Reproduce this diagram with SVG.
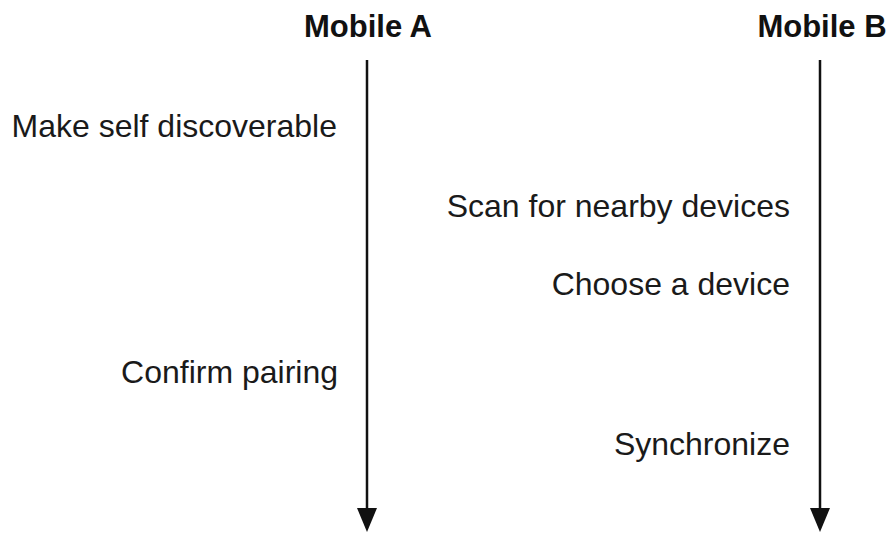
<svg xmlns="http://www.w3.org/2000/svg" width="894" height="535" viewBox="0 0 894 535">
<defs>
<style>
.hdr{font-family:"Liberation Sans",Arial,sans-serif;font-weight:bold;font-size:31px;fill:#111;text-anchor:middle}
.lbl{font-family:"Liberation Sans",Arial,sans-serif;font-size:32px;fill:#1a1a1a;text-anchor:end}
.life{stroke:#111;stroke-width:2.5;fill:none}
.head{fill:#111}
</style>
</defs>
<rect width="894" height="535" fill="#fff"/>
<g id="mobileA">
<text class="hdr" x="368" y="37">Mobile A</text>
</g>
<g id="mobileB">
<text class="hdr" x="822" y="37">Mobile B</text>
</g>
<g id="connectors">
<line class="life" x1="367" y1="60" x2="367" y2="510"/>
<polygon class="head" points="357,508 377,508 367,532"/>
<line class="life" x1="820" y1="60" x2="820" y2="510"/>
<polygon class="head" points="810,508 830,508 820,532"/>
</g>
<g id="step1"><text class="lbl" x="337" y="137">Make self discoverable</text></g>
<g id="step2"><text class="lbl" x="790" y="217">Scan for nearby devices</text></g>
<g id="step3"><text class="lbl" x="790" y="295">Choose a device</text></g>
<g id="step4"><text class="lbl" x="338" y="383">Confirm pairing</text></g>
<g id="step5"><text class="lbl" x="790" y="455">Synchronize</text></g>
</svg>
